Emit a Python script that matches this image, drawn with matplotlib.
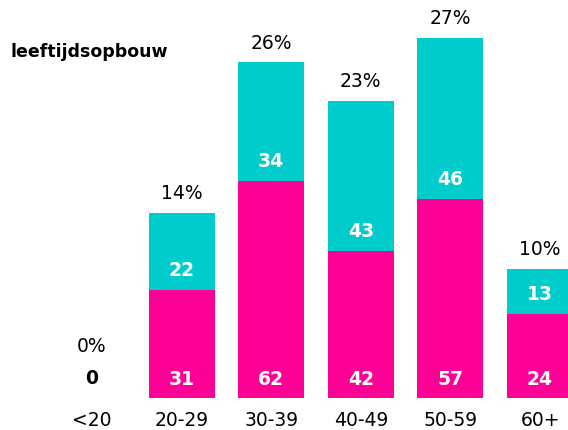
import matplotlib
matplotlib.use("Agg")
import matplotlib.pyplot as plt

# leeftijdsgroepen en aantallen
categorieen = ["<20", "20-29", "30-39", "40-49", "50-59", "60+"]
onder = [0, 31, 62, 42, 57, 24]      # roze
boven = [0, 22, 34, 43, 46, 13]      # cyaan
procenten = ["0%", "14%", "26%", "23%", "27%", "10%"]

roze = "#ff0096"
cyaan = "#00cccc"

plt.rcParams['font.family'] = ['DejaVu Sans']

fig = plt.figure(figsize=(5.68, 4.30), dpi=100)
ax = fig.add_axes([0, 32 / 430, 1, 398 / 430])

x = list(range(len(categorieen)))
ax.bar(x, onder, width=0.737, color=roze)
ax.bar(x, boven, bottom=onder, width=0.737, color=cyaan)

for i in x:
    totaal = onder[i] + boven[i]
    if totaal == 0:
        ax.annotate("0", (i, 0), xytext=(0, 14), textcoords="offset points",
                    ha="center", va="center", fontsize=13.5, fontweight="bold", color="black")
        ax.annotate(procenten[i], (i, 0), xytext=(0, 37), textcoords="offset points",
                    ha="center", va="center", fontsize=13.5, color="black")
        continue
    ax.annotate(str(onder[i]), (i, 0), xytext=(0, 13), textcoords="offset points",
                ha="center", va="center", fontsize=13.5, fontweight="bold", color="white")
    ax.annotate(str(boven[i]), (i, onder[i]), xytext=(0, 14), textcoords="offset points",
                ha="center", va="center", fontsize=13.5, fontweight="bold", color="white")
    ax.annotate(procenten[i], (i, totaal), xytext=(0, 13.5), textcoords="offset points",
                ha="center", va="center", fontsize=13.5, color="black")

for i in x:
    ax.annotate(categorieen[i], (i, 0), xytext=(0, -16), textcoords="offset points",
                ha="center", va="center", fontsize=13.5, color="black", annotation_clip=False)

ax.set_xlim(-92 / 89.6, (568 - 92) / 89.6)
ax.set_ylim(0, 398 / 3.5)
ax.axis("off")

fig.text(10 / 568, 1 - 52 / 430, "leeftijdsopbouw", ha="left", va="center",
         fontsize=12.5, fontweight="bold", color="black")

fig.savefig("out.png", dpi=100)
